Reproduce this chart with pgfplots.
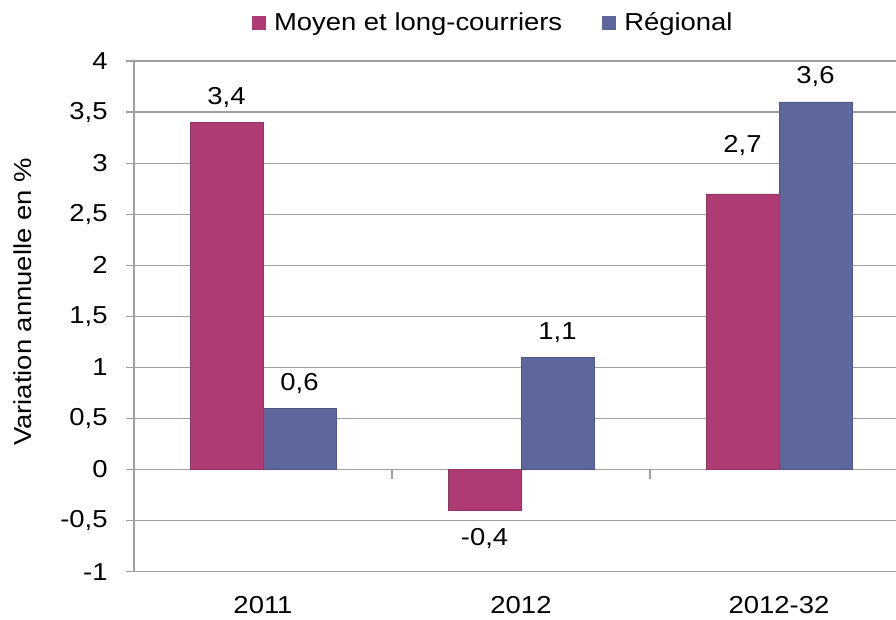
\documentclass[border=0pt]{standalone}
\usepackage{pgfplots}
\pgfplotsset{compat=1.18}
\usepackage{pgfplotstable}
\usepackage{fontspec}
\setmainfont{Liberation Sans}[FakeStretch=1.12]
\definecolor{pinkbar}{RGB}{174,59,116}
\definecolor{bluebar}{RGB}{93,103,156}
\definecolor{gridgray}{RGB}{160,160,160}

\pgfplotstableread{
x y off
0 3.4 25
1 -0.4 -28
2 2.7 48
}\moyen
\pgfplotstableread{
x y off
0 0.6 25
1 1.1 25
2 3.6 25
}\regional

\begin{document}
\fontsize{24.5}{29}\selectfont
\begin{tikzpicture}
\path[use as bounding box] (0,0) rectangle (896pt,619pt);
\begin{axis}[
  at={(134pt,47.3pt)}, anchor=south west,
  scale only axis, width=762pt, height=510.7pt,
  xmin=-0.5, xmax=2.4535, ymin=-1, ymax=4,
  axis lines*=left,
  axis line style={gridgray, line width=1.2pt},
  xtick={0,1,2}, xticklabels={2011,2012,2012-32},
  x tick style={draw=none}, major x tick style={draw=none},
  xticklabel style={yshift=-8pt},
  ytick={-1,-0.5,...,4},
  y tick style={gridgray, line width=1.2pt},
  tick align=outside, major tick length=8pt,
  yticklabel style={xshift=-10pt},
  /pgf/number format/assume math mode=true,
  /pgf/number format/use comma,
  ymajorgrids, grid style={gridgray, line width=1.2pt},
  ylabel={Variation annuelle en \%},
  ylabel style={at={(rel axis cs:-0.1457,0.528)}, anchor=center},
  legend columns=2,
  legend style={at={(rel axis cs:0.1549,1.0744)}, anchor=west,
    draw=none, fill=none, inner sep=0pt, outer sep=0pt,
    nodes={inner sep=0pt, text depth=0.15em},
    /tikz/every even column/.append style={column sep=40pt}},
  legend cell align=left,
  clip=false,
]
\addplot[ybar, bar width=73pt, bar shift=-36.5pt, fill=pinkbar, draw=pinkbar!85!black,
  legend image code/.code={\fill[pinkbar, draw=none] (0pt,-7pt) rectangle (14pt,7pt); \path[draw=none, fill=none] (0pt,0pt) -- (22pt,0pt);},
  point meta=y,
  nodes near coords={\pgfmathprintnumber[fixed,precision=1,use comma,assume math mode=true]{\pgfplotspointmeta}},
  visualization depends on={\thisrow{off} \as \myoff},
  nodes near coords style={anchor=center, xshift=-36.5pt, yshift=\myoff pt, text=black}]
  table[x=x, y=y] {\moyen};
\addlegendentry{Moyen et long-courriers}
\addplot[ybar, bar width=73pt, bar shift=36.5pt, fill=bluebar, draw=bluebar!85!black,
  legend image code/.code={\fill[bluebar, draw=none] (0pt,-7pt) rectangle (14pt,7pt); \path[draw=none, fill=none] (0pt,0pt) -- (22pt,0pt);},
  point meta=y,
  nodes near coords={\pgfmathprintnumber[fixed,precision=1,use comma,assume math mode=true]{\pgfplotspointmeta}},
  visualization depends on={\thisrow{off} \as \myoff},
  nodes near coords style={anchor=center, xshift=36.5pt, yshift=\myoff pt, text=black}]
  table[x=x, y=y] {\regional};
\addlegendentry{Régional}
\draw[gridgray, line width=1.2pt] (axis cs:0.5,0) -- ++(0pt,-9pt);
\draw[gridgray, line width=1.2pt] (axis cs:1.5,0) -- ++(0pt,-9pt);
\end{axis}
\end{tikzpicture}
\end{document}
